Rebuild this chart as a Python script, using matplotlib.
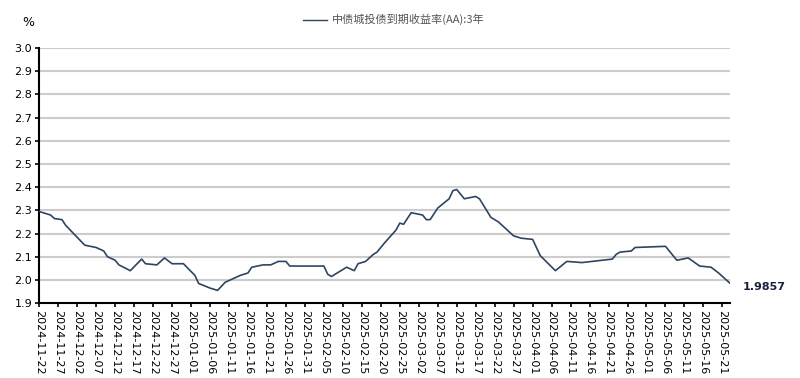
#!/usr/bin/env python3

import matplotlib
matplotlib.use("Agg")
import matplotlib.pyplot as plt
import numpy as np
import pandas as pd

plt.rcParams['font.family'] = ['DejaVu Sans', 'Noto Sans CJK SC']

series_name = "中债城投债到期收益率(AA):3年"
last_label = "1.9857"

dates = [
    "2024-11-22", "2024-11-25", "2024-11-26", "2024-11-28", "2024-11-29",
    "2024-12-04", "2024-12-07", "2024-12-09", "2024-12-10", "2024-12-12",
    "2024-12-13", "2024-12-16", "2024-12-19", "2024-12-20", "2024-12-23",
    "2024-12-25", "2024-12-27", "2024-12-30", "2025-01-02", "2025-01-03",
    "2025-01-06", "2025-01-08", "2025-01-10", "2025-01-14", "2025-01-16",
    "2025-01-17", "2025-01-20", "2025-01-22", "2025-01-24", "2025-01-26",
    "2025-01-27", "2025-02-05", "2025-02-06", "2025-02-07", "2025-02-11",
    "2025-02-13", "2025-02-14", "2025-02-16", "2025-02-18", "2025-02-19",
    "2025-02-21", "2025-02-24", "2025-02-25", "2025-02-26", "2025-02-28",
    "2025-03-03", "2025-03-04", "2025-03-05", "2025-03-07", "2025-03-10",
    "2025-03-11", "2025-03-12", "2025-03-14", "2025-03-17", "2025-03-18",
    "2025-03-21", "2025-03-23", "2025-03-27", "2025-03-29", "2025-04-01",
    "2025-04-03", "2025-04-07", "2025-04-10", "2025-04-14", "2025-04-22",
    "2025-04-23", "2025-04-24", "2025-04-27", "2025-04-28", "2025-05-06",
    "2025-05-09", "2025-05-12", "2025-05-15", "2025-05-18", "2025-05-20",
    "2025-05-23",
]
yields = [
    2.295, 2.28, 2.265, 2.26, 2.235,
    2.15, 2.14, 2.125, 2.10, 2.085,
    2.065, 2.04, 2.09, 2.07, 2.065,
    2.095, 2.07, 2.07, 2.02, 1.985,
    1.965, 1.955, 1.99, 2.02, 2.03,
    2.055, 2.065, 2.065, 2.08, 2.08,
    2.06, 2.06, 2.025, 2.015, 2.055,
    2.04, 2.07, 2.08, 2.11, 2.12,
    2.16, 2.215, 2.245, 2.24, 2.29,
    2.28, 2.26, 2.26, 2.31, 2.35,
    2.385, 2.39, 2.35, 2.36, 2.35,
    2.27, 2.25, 2.19, 2.18, 2.175,
    2.105, 2.04, 2.08, 2.075, 2.09,
    2.11, 2.12, 2.125, 2.14, 2.145,
    2.085, 2.095, 2.06, 2.055, 2.03,
    1.9857,
]

tick_start = "2024-11-22"
tick_end = "2025-05-21"
y_ticks = [1.9, 2.0, 2.1, 2.2, 2.3, 2.4, 2.5, 2.6, 2.7, 2.8, 2.9, 3.0]

x = pd.to_datetime(dates)
tick_dates = pd.date_range(tick_start, tick_end, freq="5D")

fig = plt.figure(figsize=(8, 3.78), dpi=100)
ax = fig.add_axes([0.049, 0.198, 0.8635, 0.675])

for yv in y_ticks[1:]:
    ax.axhline(yv, color="#cccccc", lw=1.5, zorder=0)

ax.plot(x, yields, color="#2e4560", lw=1.2, zorder=3)

ax.set_ylim(1.9, 3.0)
ax.set_xlim(x[0], x[-1])
ax.set_yticks(y_ticks)
ax.set_yticklabels([f"{v:.1f}" for v in y_ticks], fontsize=8)
ax.set_xticks(tick_dates)
ax.set_xticklabels([d.strftime("%Y-%m-%d") for d in tick_dates], rotation=270, fontsize=8)
ax.tick_params(axis="both", direction="out", length=3, width=1.2, pad=2, colors="black")

for s in ["top", "right"]:
    ax.spines[s].set_visible(False)
ax.spines["left"].set_linewidth(1.5)
ax.spines["bottom"].set_linewidth(1.5)

ax.annotate(last_label, xy=(x[-1], yields[-1]), xytext=(9, -3), textcoords="offset points",
            fontsize=8, fontweight="bold", color="#1a1f3d", va="center", ha="left")

fig.text(0.035, 0.94, "%", fontsize=9, ha="center", va="center")
fig.lines.append(plt.Line2D([0.379, 0.409], [0.948, 0.948], transform=fig.transFigure,
                            color="#2e4560", lw=1.0))
fig.text(0.415, 0.948, series_name, fontsize=8, color="#555555", va="center",
         family=['Noto Sans CJK SC', 'DejaVu Sans'])

fig.savefig("out.png", dpi=100)
plt.close()
